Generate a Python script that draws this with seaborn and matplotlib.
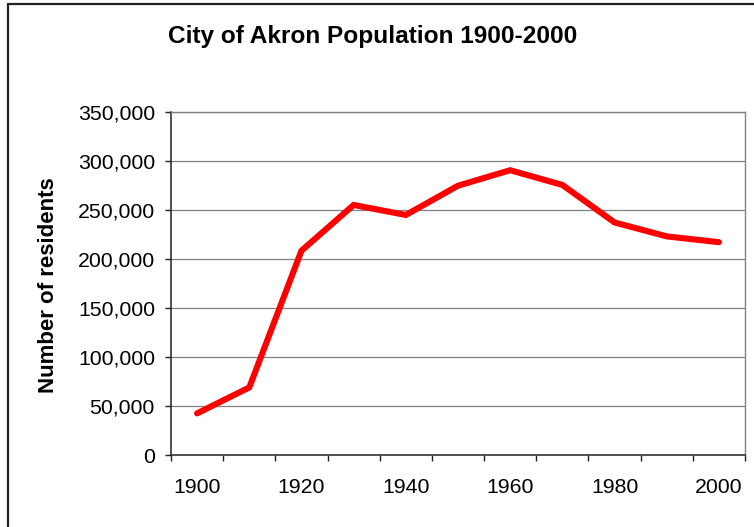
import matplotlib
matplotlib.use("Agg")
import matplotlib.pyplot as plt
from matplotlib.ticker import FuncFormatter, MultipleLocator
from matplotlib.lines import Line2D
import seaborn as sns
import pandas as pd

# ---- data ----
years = [1900, 1910, 1920, 1930, 1940, 1950, 1960, 1970, 1980, 1990, 2000]
population = [42700, 69100, 208400, 255000, 244800, 274600, 290400, 275400, 237200, 223000, 217100]
title = "City of Akron Population 1900-2000"
ylabel = "Number of residents"
xtick_labels = [1900, 1920, 1940, 1960, 1980, 2000]
ytick_values = [0, 50000, 100000, 150000, 200000, 250000, 300000, 350000]

sns.set_style("white")
plt.rcParams["font.family"] = ["Liberation Sans", "DejaVu Sans"]
plt.rcParams["text.color"] = "black"
plt.rcParams["axes.labelcolor"] = "black"
plt.rcParams["xtick.color"] = "black"
plt.rcParams["ytick.color"] = "black"

W, H = 754, 527
fig = plt.figure(figsize=(W / 100, H / 100), dpi=100)
fig.patch.set_facecolor("white")

# plot area in pixel coords
L, R, T, B = 171, 745, 111.7, 455.3
ax = fig.add_axes([L / W, 1 - B / H, (R - L) / W, (B - T) / H])

df = pd.DataFrame({"year": years, "population": population})
sns.lineplot(data=df, x="year", y="population", ax=ax, color="#ff0000",
             linewidth=4.4, solid_capstyle="round", solid_joinstyle="miter")

ax.set_xlim(1895, 2005)
ax.set_ylim(0, 350000)
ax.set_xticks(xtick_labels)
ax.set_xticklabels([str(v) for v in xtick_labels])
ax.xaxis.set_minor_locator(MultipleLocator(10, offset=5))
ax.set_yticks(ytick_values)
ax.yaxis.set_major_formatter(FuncFormatter(lambda v, p: f"{int(v):,}"))

ax.tick_params(axis="x", which="major", length=0, pad=16.0, labelsize=15.3, labelcolor="black")
ax.tick_params(axis="x", which="minor", length=4.4, width=1.0, direction="out", color="#222222")
ax.tick_params(axis="y", which="major", length=4.4, width=1.0, direction="out", pad=7.2,
               labelsize=15.3, color="#222222", labelcolor="black")
ax.tick_params(bottom=True, left=True, which="both")

ax.grid(axis="y", color="#808080", linewidth=0.9)
ax.grid(axis="x", visible=False)
ax.set_axisbelow(True)

ax.set_xlabel("")
ax.set_ylabel("")

for side in ("left", "bottom"):
    ax.spines[side].set_color("#222222")
    ax.spines[side].set_linewidth(1.1)
for side in ("top", "right"):
    ax.spines[side].set_visible(True)
    ax.spines[side].set_color("#808080")
    ax.spines[side].set_linewidth(1.0)

fig.text(373 / W, 1 - 43.5 / H, title, ha="center", va="baseline",
         fontsize=17.6, fontweight="bold", color="black")
fig.text(48.5 / W, 1 - 285.5 / H, ylabel, ha="center", va="center",
         rotation=90, fontsize=16, fontweight="bold", color="black")

# outer chart frame (top and left edges visible in the reference)
fig.add_artist(Line2D([7.5 / W, 1.0], [1 - 4 / H, 1 - 4 / H], transform=fig.transFigure,
                      color="#222222", linewidth=1.6))
fig.add_artist(Line2D([7.5 / W, 7.5 / W], [0.0, 1 - 4 / H], transform=fig.transFigure,
                      color="#222222", linewidth=1.6))

fig.savefig("out.png", dpi=100)
